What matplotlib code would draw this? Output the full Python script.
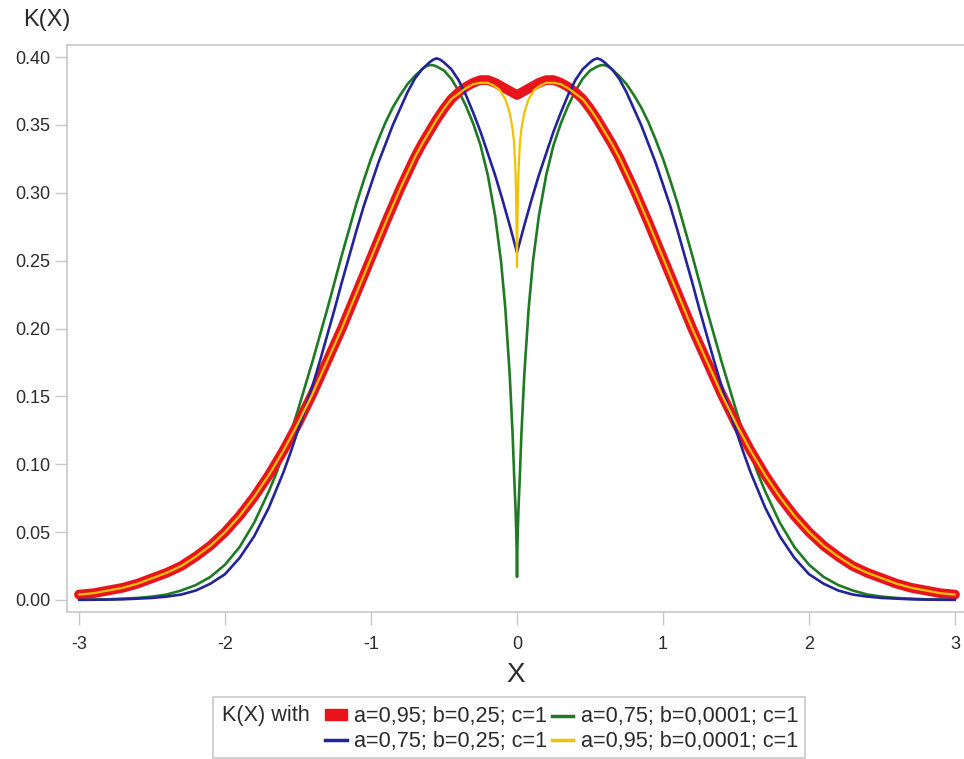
import matplotlib
matplotlib.use('Agg')
import matplotlib.pyplot as plt
from matplotlib.patches import Patch, Rectangle
from matplotlib.lines import Line2D
from matplotlib.ticker import FormatStrFormatter

plt.rcParams['font.family'] = ['Liberation Sans', 'DejaVu Sans']
plt.rcParams['axes.unicode_minus'] = False

# Values for x >= 0; the curves are symmetric about x = 0.
x_red = [0.0, 0.05, 0.1, 0.15, 0.2, 0.25, 0.3, 0.35, 0.4, 0.45, 0.5, 0.55, 0.6, 0.65,
         0.7, 0.8, 0.9, 1.0, 1.1, 1.2, 1.3, 1.4, 1.5, 1.6, 1.7, 1.8, 1.9, 2.0, 2.1,
         2.2, 2.3, 2.4, 2.5, 2.6, 2.7, 2.8, 2.9, 3.0]
k_red = [0.372, 0.375, 0.378, 0.381, 0.383, 0.383, 0.381, 0.378, 0.374, 0.369, 0.362,
         0.354, 0.345, 0.336, 0.326, 0.303, 0.278, 0.252, 0.226, 0.200, 0.176, 0.152,
         0.130, 0.110, 0.092, 0.076, 0.062, 0.050, 0.040, 0.032, 0.025, 0.020, 0.016,
         0.012, 0.009, 0.007, 0.005, 0.004]

x_blue = [0.0, 0.05, 0.1, 0.15, 0.2, 0.25, 0.3, 0.35, 0.4, 0.45, 0.5, 0.525, 0.55,
          0.575, 0.6, 0.65, 0.7, 0.75, 0.8, 0.85, 0.9, 0.95, 1.0, 1.05, 1.1, 1.15, 1.2,
          1.25, 1.3, 1.35, 1.4, 1.45, 1.5, 1.55, 1.6, 1.65, 1.7, 1.8, 1.9, 2.0, 2.1,
          2.2, 2.3, 2.4, 2.5, 2.6, 2.7, 2.8, 2.9, 3.0]
k_blue = [0.256, 0.276, 0.295, 0.313, 0.329, 0.345, 0.359, 0.372, 0.383, 0.391, 0.396,
          0.398, 0.399, 0.398, 0.396, 0.391, 0.384, 0.374, 0.362, 0.350, 0.336, 0.322,
          0.306, 0.290, 0.272, 0.253, 0.234, 0.214, 0.195, 0.176, 0.158, 0.141, 0.125,
          0.109, 0.094, 0.081, 0.068, 0.047, 0.031, 0.019, 0.012, 0.007, 0.004, 0.0025,
          0.0015, 0.001, 0.0005, 0.0003, 0.0002, 0.0001]

x_green = [0.0, 0.002, 0.005, 0.01, 0.015, 0.02, 0.03, 0.05, 0.08, 0.11, 0.15, 0.2,
           0.25, 0.3, 0.35, 0.4, 0.45, 0.5, 0.55, 0.575, 0.6, 0.625, 0.65, 0.7, 0.75,
           0.8, 0.85, 0.9, 0.95, 1.0, 1.05, 1.1, 1.15, 1.2, 1.25, 1.3, 1.35, 1.4, 1.45,
           1.5, 1.55, 1.6, 1.65, 1.7, 1.8, 1.9, 2.0, 2.1, 2.2, 2.3, 2.4, 2.5, 2.6, 2.7,
           2.8, 2.9, 3.0]
k_green = [0.017, 0.035, 0.050, 0.067, 0.080, 0.093, 0.122, 0.166, 0.215, 0.250, 0.283,
           0.313, 0.335, 0.351, 0.364, 0.375, 0.384, 0.390, 0.393, 0.394, 0.394, 0.393,
           0.391, 0.386, 0.380, 0.372, 0.363, 0.352, 0.339, 0.325, 0.309, 0.292, 0.273,
           0.254, 0.234, 0.214, 0.195, 0.176, 0.158, 0.140, 0.123, 0.108, 0.093, 0.080,
           0.057, 0.039, 0.026, 0.017, 0.011, 0.007, 0.004, 0.0025, 0.0015, 0.001,
           0.0005, 0.0003, 0.0002]

x_yellow = [0.0, 0.004, 0.01, 0.02, 0.03, 0.05, 0.08, 0.12, 0.16, 0.2, 0.25, 0.3, 0.35,
            0.4, 0.45, 0.5, 0.55, 0.6, 0.65, 0.7, 0.8, 0.9, 1.0, 1.1, 1.2, 1.3, 1.4,
            1.5, 1.6, 1.7, 1.8, 1.9, 2.0, 2.1, 2.2, 2.3, 2.4, 2.5, 2.6, 2.7, 2.8, 2.9,
            3.0]
k_yellow = [0.245, 0.285, 0.315, 0.337, 0.347, 0.359, 0.369, 0.376, 0.379, 0.381, 0.381,
            0.380, 0.377, 0.373, 0.369, 0.362, 0.354, 0.345, 0.336, 0.326, 0.303, 0.278,
            0.252, 0.226, 0.200, 0.176, 0.152, 0.130, 0.110, 0.092, 0.076, 0.062, 0.050,
            0.040, 0.032, 0.025, 0.020, 0.016, 0.012, 0.009, 0.007, 0.005, 0.004]

labels = ['a=0,95; b=0,25; c=1', 'a=0,75; b=0,25; c=1',
          'a=0,75; b=0,0001; c=1', 'a=0,95; b=0,0001; c=1']
x_ticks = [-3, -2, -1, 0, 1, 2, 3]
y_ticks = [0.00, 0.05, 0.10, 0.15, 0.20, 0.25, 0.30, 0.35, 0.40]

RED, BLUE, GREEN, YELLOW = '#e8141c', '#23239a', '#1f7a23', '#f2c200'
GRAY = '#c8c8c8'
TXT = '#2b2b2b'


def both_sides(xs, ks):
    # mirror the x >= 0 half onto x < 0
    return [-v for v in xs[:0:-1]] + xs, ks[:0:-1] + ks


fig = plt.figure(figsize=(9.64, 7.59), dpi=100)
ax = fig.add_axes([67 / 964, 1 - 612 / 759, 897 / 964, 567 / 759])

xs, ks = both_sides(x_green, k_green)
ax.plot(xs, ks, color=GREEN, lw=1.9, solid_capstyle='round', zorder=2)
xs, ks = both_sides(x_red, k_red)
ax.plot(xs, ks, color=RED, lw=7.0, solid_capstyle='round', zorder=3)
xs, ks = both_sides(x_blue, k_blue)
ax.plot(xs, ks, color=BLUE, lw=1.9, solid_capstyle='round', zorder=4)
xs, ks = both_sides(x_yellow, k_yellow)
ax.plot(xs, ks, color=YELLOW, lw=1.6, solid_capstyle='round', zorder=5)

ax.set_xlim(-3 - 12 / 146, 3 + 9 / 146)
ax.set_ylim(-12 / 1357.5, 0.40 + 12 / 1357.5)
ax.set_xticks(x_ticks)
ax.set_yticks(y_ticks)
ax.yaxis.set_major_formatter(FormatStrFormatter('%.2f'))
ax.tick_params(axis='both', colors=GRAY, labelcolor=TXT, length=9, width=1,
               labelsize=13, direction='out')
ax.tick_params(axis='x', pad=8)
ax.tick_params(axis='y', pad=3)
for side in ['left', 'top', 'bottom']:
    ax.spines[side].set_color(GRAY)
    ax.spines[side].set_linewidth(1.2)
ax.spines['right'].set_visible(False)

ax.set_xlabel('X', fontsize=20, color=TXT, labelpad=7)
fig.text(47 / 964, 1 - 20 / 759, 'K(X)', fontsize=17, color=TXT, ha='center', va='center')

# legend box with the title on the left
fig.patches.append(Rectangle((213 / 964, 1 - 758 / 759), 592 / 964, 61 / 759,
                             transform=fig.transFigure, facecolor='white',
                             edgecolor=GRAY, lw=1.2))
fig.text(222 / 964, 1 - 716 / 759, 'K(X) with', fontsize=15.6, color=TXT, va='center')
handles = [Patch(facecolor=RED, edgecolor=RED),
           Line2D([], [], color=BLUE, lw=2.5),
           Line2D([], [], color=GREEN, lw=2.5),
           Line2D([], [], color=YELLOW, lw=2.5)]
fig.legend(handles, [labels[0], labels[1], labels[2], labels[3]], ncol=2,
           loc='center left', bbox_to_anchor=(325 / 964, 1 - 729 / 759),
           frameon=False, fontsize=15.6, handlelength=1.0, handleheight=0.4,
           handletextpad=0.35, columnspacing=0.2, labelspacing=0.16,
           borderaxespad=0, borderpad=0, labelcolor=TXT)

fig.savefig('out.png', dpi=100)
